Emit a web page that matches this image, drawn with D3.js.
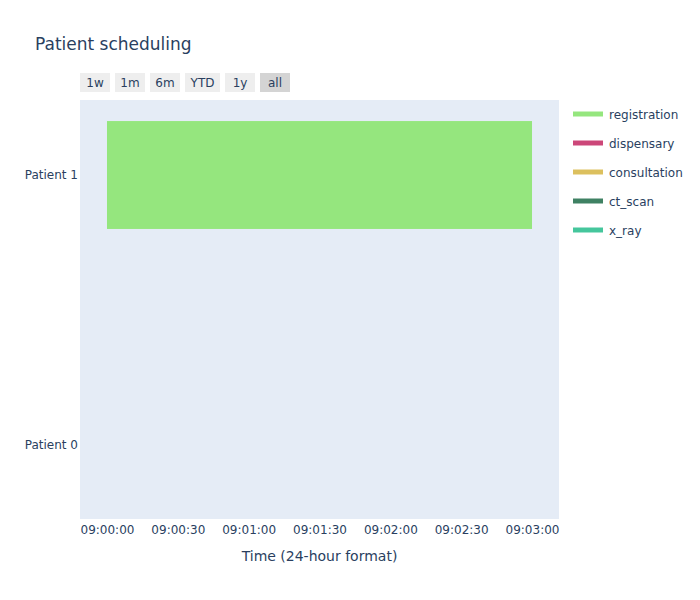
<!DOCTYPE html>
<html>
<head>
<meta charset="utf-8">
<script src="https://cdn.jsdelivr.net/npm/d3@7"></script>
<style>
  html, body { margin: 0; padding: 0; background: #fff; }
  svg { display: block; font-family: "DejaVu Sans", Verdana, sans-serif; }
</style>
</head>
<body>
<svg id="chart" width="700" height="600"></svg>
<script>
// ---- data ----
const patients = ["Patient 0", "Patient 1"];
const taskNames = ["registration", "dispensary", "consultation", "ct_scan", "x_ray"];
const taskColors = ["#95e67e", "#cc4779", "#dcc05e", "#3f8163", "#45c69c"];
const taskPatient = ["Patient 1"];
const taskType = ["registration"];
const taskStart = ["2024-01-01 09:00:00"];
const taskEnd = ["2024-01-01 09:03:00"];
const rangeButtons = ["1w", "1m", "6m", "YTD", "1y", "all"];
const titleText = "Patient scheduling";
const xTitle = "Time (24-hour format)";

// ---- layout ----
const svg = d3.select("#chart");
const W = 700, H = 600;
const plot = { left: 80, right: 559, top: 100, bottom: 519 };
const textColor = "#2a3f5f";

svg.append("rect").attr("width", W).attr("height", H).attr("fill", "#fff");

const parse = d3.timeParse("%Y-%m-%d %H:%M:%S");
const starts = taskStart.map(parse), ends = taskEnd.map(parse);
const tMin = d3.min(starts), tMax = d3.max(ends);
const span = tMax - tMin;
const pad = span * 0.0635;
const x = d3.scaleTime()
  .domain([new Date(+tMin - pad), new Date(+tMax + pad)])
  .range([plot.left, plot.right]);

const y = d3.scaleLinear()
  .domain([-0.275, patients.length - 1 + 0.278])
  .range([plot.bottom, plot.top]);

// plot background
svg.append("rect")
  .attr("x", plot.left).attr("y", plot.top)
  .attr("width", plot.right - plot.left).attr("height", plot.bottom - plot.top)
  .attr("fill", "#e5ecf6");

// bars
const tasks = taskPatient.map((p, i) => ({ p, type: taskType[i], s: starts[i], e: ends[i] }));
const halfH = 0.2;
svg.append("g").selectAll("rect").data(tasks).join("rect")
  .attr("x", d => x(d.s))
  .attr("width", d => x(d.e) - x(d.s))
  .attr("y", d => y(patients.indexOf(d.p) + halfH))
  .attr("height", d => y(patients.indexOf(d.p) - halfH) - y(patients.indexOf(d.p) + halfH))
  .attr("fill", d => taskColors[taskNames.indexOf(d.type)]);

// x axis
const xAxis = d3.axisBottom(x)
  .ticks(d3.timeSecond.every(30))
  .tickFormat(d3.timeFormat("%H:%M:%S"))
  .tickSize(0).tickPadding(6);
const gx = svg.append("g").attr("transform", `translate(0,${plot.bottom})`).call(xAxis);
gx.select(".domain").remove();
gx.selectAll("text").attr("fill", textColor).attr("font-size", 12)
  .attr("font-family", "DejaVu Sans, Verdana, sans-serif");

// y axis
const yAxis = d3.axisLeft(y)
  .tickValues(patients.map((p, i) => i))
  .tickFormat(i => patients[i])
  .tickSize(0).tickPadding(2);
const gy = svg.append("g").attr("transform", `translate(${plot.left},0)`).call(yAxis);
gy.select(".domain").remove();
gy.selectAll("text").attr("fill", textColor).attr("font-size", 12)
  .attr("font-family", "DejaVu Sans, Verdana, sans-serif");

// axis title
svg.append("text")
  .attr("x", (plot.left + plot.right) / 2).attr("y", 561)
  .attr("text-anchor", "middle").attr("font-size", 14).attr("fill", textColor)
  .text(xTitle);

// title
svg.append("text")
  .attr("x", 35).attr("y", 50)
  .attr("font-size", 17).attr("fill", textColor)
  .text(titleText);

// range selector buttons
const btnWidths = [30, 30, 30, 35, 30, 30];
let bx = 80;
const gb = svg.append("g");
rangeButtons.forEach((b, i) => {
  const w = btnWidths[i];
  gb.append("rect").attr("x", bx).attr("y", 73).attr("width", w).attr("height", 19)
    .attr("fill", b === "all" ? "#d4d4d4" : "#eeeeee");
  gb.append("text").attr("x", bx + w / 2).attr("y", 86.5)
    .attr("text-anchor", "middle").attr("font-size", 12).attr("fill", textColor)
    .text(b);
  bx += w + 5;
});

// legend
const lg = svg.append("g");
taskNames.forEach((n, i) => {
  const ly = 114 + i * 29;
  lg.append("line").attr("x1", 573).attr("x2", 603).attr("y1", ly).attr("y2", ly)
    .attr("stroke", taskColors[i]).attr("stroke-width", 5);
  lg.append("text").attr("x", 609).attr("y", ly + 4.5)
    .attr("font-size", 12).attr("fill", textColor).text(n);
});
</script>
</body>
</html>
